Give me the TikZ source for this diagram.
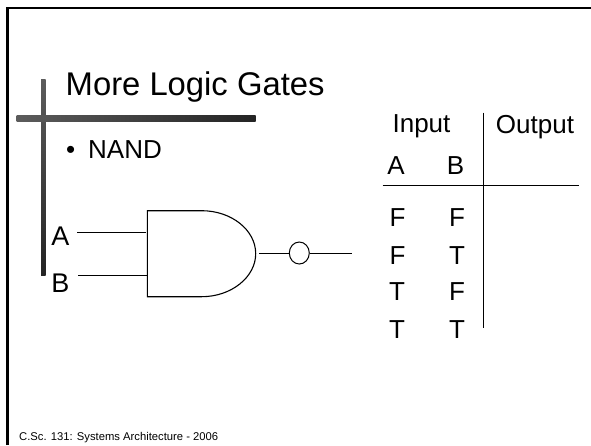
\documentclass[tikz,border=0pt]{standalone}
\usepackage{fontspec}
\setmainfont{Liberation Sans}
\usetikzlibrary{shapes.geometric}
\definecolor{barA}{gray}{0.36}
\definecolor{barB}{gray}{0.14}
\tikzset{
  wire/.style={line width=1pt,black},
  tbl/.style={line width=1pt,black},
  label/.style={inner sep=0pt,font=\fontsize{27}{27}\selectfont,anchor=base},
  cell/.style={inner sep=0pt,font=\fontsize{26}{26}\selectfont,anchor=base},
}
\begin{document}
\begin{tikzpicture}[x=1pt,y=-1pt]
\useasboundingbox (0,0) rectangle (591,445);
\fill[white] (0,0) rectangle (591,445);
% frame
\draw[line width=2.5pt] (7.7,445) -- (7.7,8) -- (591,8);
% title bars
\shade[top color=barA,bottom color=barB] (41,79) rectangle (45.7,275.7);
\shade[left color=barA,right color=barB] (16.7,115) rectangle (255.7,121.7);
% title
\node[anchor=base west,inner sep=0pt,font=\fontsize{32.8}{32.8}\selectfont] (title) at (65.5,95.7) {More Logic Gates};
\node[anchor=base west,inner sep=0pt,font=\fontsize{26}{26}\selectfont] (bullet) at (66,158) {•};
\node[anchor=base west,inner sep=0pt,font=\fontsize{26}{26}\selectfont] (nand) at (88,158) {NAND};
% labels
\node[label] (a) at (60.5,245.5) {A};
\node[label] (b) at (60.5,292) {B};
% gate
\coordinate (g1) at (147.3,210.7);
\coordinate (g2) at (147.3,296.7);
\coordinate (ain) at (146,232);
\coordinate (bin) at (147,275.6);
\coordinate (aout) at (77,232);
\coordinate (bout) at (78,275.6);
\coordinate (gout) at (259,253);
\node[ellipse,draw,line width=1pt,minimum width=20pt,minimum height=22pt,inner sep=0pt] (bub) at (299.3,253) {};
\coordinate (oend) at (351.7,253);
\draw[line width=1.1pt] (g1) -- (201.7,210.7) .. controls (231.4,210.7) and (255.7,230) .. (255.7,253.7) .. controls (255.7,277) and (231.4,296.7) .. (201.7,296.7) -- (g2) -- cycle;
\draw[wire] (aout) -- (ain);
\draw[wire] (bout) -- (bin);
\draw[wire] (gout) -- (bub.west);
\draw[wire] (bub.east) -- (oend);
% table
\node[cell] (input) at (421.5,132) {Input};
\node[cell] (output) at (535,133) {Output};
\node[cell] (ha) at (396,174) {A};
\node[cell] (hb) at (455.5,174) {B};
\node[cell] (r1a) at (397.5,226.7) {F};
\node[cell] (r1b) at (457,226.7) {F};
\node[cell] (r2a) at (397.5,264) {F};
\node[cell] (r2b) at (457,264) {T};
\node[cell] (r3a) at (397,300.7) {T};
\node[cell] (r3b) at (457,300.7) {F};
\node[cell] (r4a) at (397,338) {T};
\node[cell] (r4b) at (457,338) {T};
\coordinate (vt) at (483.3,112.7);
\coordinate (vb) at (483.3,327.7);
\coordinate (hl) at (382.7,185.3);
\coordinate (hr) at (579,185.3);
\draw[tbl] (vt) -- (vb);
\draw[tbl] (hl) -- (hr);
% footer
\node[anchor=base west,inner sep=0pt,font=\fontsize{11.25}{11.25}\selectfont] (foot) at (19,440.7) {C.Sc. 131: Systems Architecture - 2006};
\end{tikzpicture}
\end{document}
